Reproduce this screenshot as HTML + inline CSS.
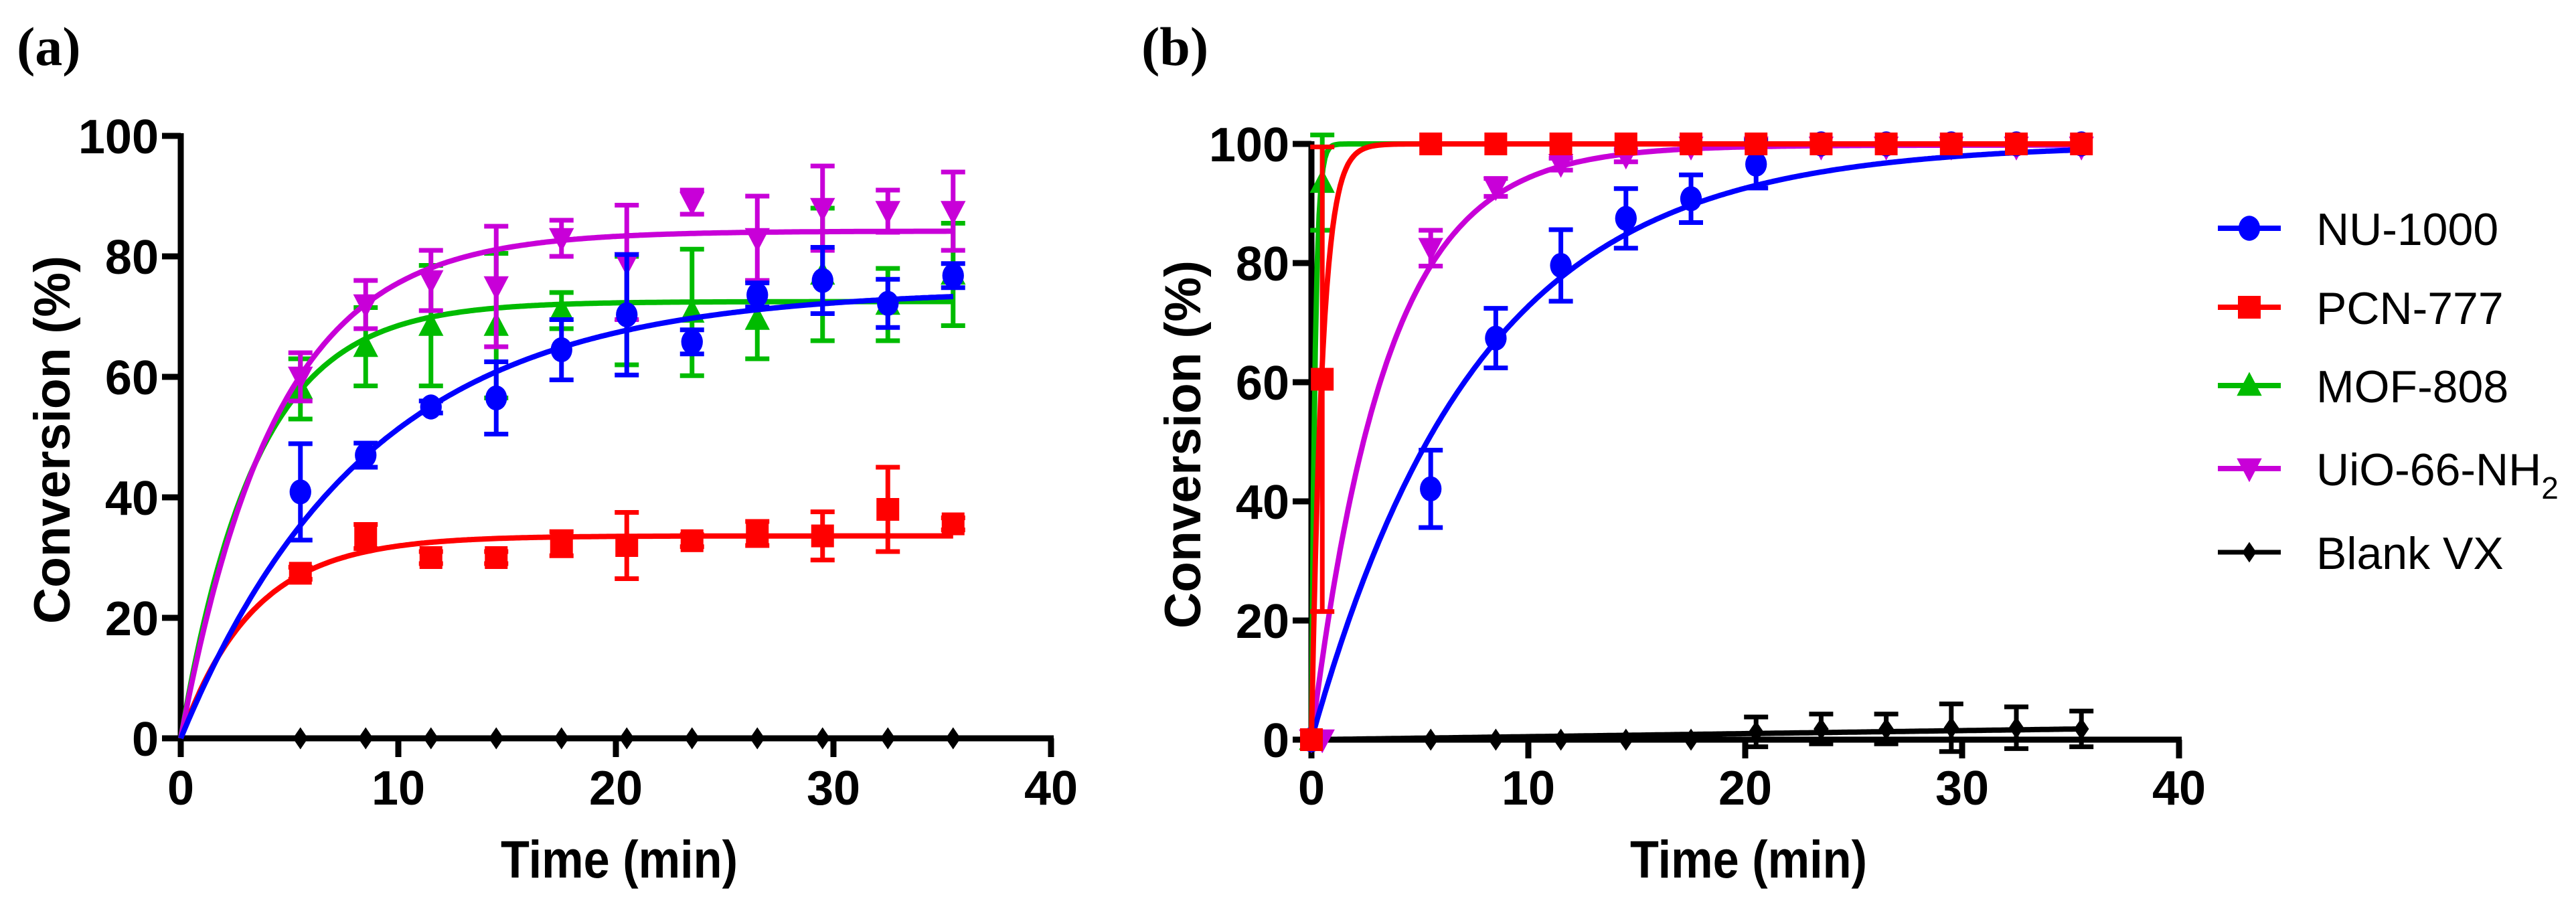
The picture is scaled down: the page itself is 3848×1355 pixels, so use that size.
<!DOCTYPE html>
<html><head><meta charset="utf-8"><style>
html,body{margin:0;padding:0;background:#fff;}
svg{display:block;}
text{font-family:"Liberation Sans",Arial,sans-serif;}
</style></head><body>
<svg id="fig" width="3848" height="1355" viewBox="0 0 3848 1355" xmlns="http://www.w3.org/2000/svg">
<text x="25" y="97" style="font-family:'Liberation Serif',serif" font-weight="bold" font-size="82">(a)</text>
<text x="1705" y="97" style="font-family:'Liberation Serif',serif" font-weight="bold" font-size="82">(b)</text>
<g id="pa"></g>
<g id="pb"></g>
<g id="legend"></g>
</svg>
<script>
// ---- shared ----
const seriesNames = ["NU-1000","PCN-777","MOF-808","UiO-66-NH2","Blank VX"];
const seriesColors = ["#0000ff","#ff0000","#00bb00","#c800d8","#000000"];
const seriesMarkers = ["circle","square","up","down","diamond"];
const xTicks = [0,10,20,30,40];
const yTicks = [0,20,40,60,80,100];

// ---- panel a data ----
const aTimes = [5.5,8.5,11.5,14.5,17.5,20.5,23.5,26.5,29.5,32.5,35.5];
const aNU = [40.9,47,55,56.5,64.5,70.3,65.8,73.6,76,72.2,76.8];
const aNUerr = [8,2,1,6,5,10,2,2,5.5,4,2];
const aPCN = [27.4,33.5,30,30,32.3,32,32.8,34,33.6,38,35.6];
const aPCNerr = [1,2,1,1,2,5.5,1,2,4,7,1];
const aMOF = [58,65,68.5,68.5,71,71,70.7,69.5,77,72,77];
const aMOFerr = [5,6.5,10,12,3,9,10.5,6.5,11,6,8.5];
const aUiO = [60,72,76,75,83,79,89,83,88,87.5,87.5];
const aUiOerr = [4,4,5,10,3,9.5,2,7,7,3.5,6.5];
const aBlank = [0,0,0,0,0,0,0,0,0,0,0];
const aBlankErr = [0,0,0,0,0,0,0,0,0,0,0];
// fit parameters (plateau, rate k)
const aFitPlateau = [74.5,33.6,72.5,84.2,0];
const aFitRate = [0.117,0.30,0.29,0.228,0];

// ---- panel b data ----
const bTimesNU = [0,5.5,8.5,11.5,14.5,17.5,20.5,23.5,26.5,29.5,32.5,35.5];
const bNU = [0,42.1,67.4,79.6,87.5,90.8,96.6,100,100,100,100,100];
const bNUerr = [0,6.5,5,6,5,4,4,0.5,0.5,0.5,0.5,0.5];
const bTimesPCN = [0,0.5,5.5,8.5,11.5,14.5,17.5,20.5,23.5,26.5,29.5,32.5,35.5];
const bPCN = [0,60.5,100,100,100,100,100,100,100,100,100,100,100];
const bPCNerr = [0,39,0.5,0.5,0.5,0.5,0.5,0.5,0.5,0.5,0.5,0.5,0.5];
const bTimesMOF = [0,0.5];
const bMOF = [0,93.5];
const bMOFerr = [0,8];
const bTimesUiO = [0,0.5,5.5,8.5,11.5,14.5,17.5,20.5,23.5,26.5,29.5,32.5,35.5];
const bUiO = [0,0,82.5,92.7,96.6,98,99.5,99.5,99.5,99.5,99.5,99.5,99.5];
const bUiOerr = [0,0,3,1.5,1,1,0.5,0.5,0.5,0.5,0.5,0.5,0.5];
const bTimesBlank = [0,5.5,8.5,11.5,14.5,17.5,20.5,23.5,26.5,29.5,32.5,35.5];
const bBlank = [0,0,0,0,0,0,1.3,1.8,1.8,2,2,1.8];
const bBlankErr = [0,0,0,0,0,0,2.5,2.5,2.5,4,3.5,3];
const bFitPlateau = [100,100,100,99.8,1.8];
const bFitRate = [0.13,2.0,6.0,0.29,0.03];

const NS="http://www.w3.org/2000/svg";
function mk(tag,attrs,parent){const e=document.createElementNS(NS,tag);for(const k in attrs)e.setAttribute(k,attrs[k]);parent.appendChild(e);return e;}

function marker(g,type,cx,cy,color,s){
  let e;
  if(type==="circle"){e=mk("ellipse",{cx:cx,cy:cy,rx:s*0.95,ry:s*1.1,fill:color},g);}
  else if(type==="square"){e=mk("rect",{x:cx-s,y:cy-s,width:2*s,height:2*s,fill:color},g);}
  else if(type==="up"){e=mk("polygon",{points:`${cx},${cy-s*1.2} ${cx+s*1.1},${cy+s*0.9} ${cx-s*1.1},${cy+s*0.9}`,fill:color},g);}
  else if(type==="down"){e=mk("polygon",{points:`${cx},${cy+s*1.2} ${cx+s*1.1},${cy-s*0.9} ${cx-s*1.1},${cy-s*0.9}`,fill:color},g);}
  else {e=mk("polygon",{points:`${cx},${cy-s*1.1} ${cx+s*0.75},${cy} ${cx},${cy+s*1.1} ${cx-s*0.75},${cy}`,fill:color},g);}
  return e;
}

function drawPanel(gid,x0,x1,y0,y1,series,fitP,fitK,blankLinear,prefix){
  const g=document.getElementById(gid);
  const sx=t=>x0+(t/40)*(x1-x0);
  const sy=v=>y0-(v/100)*(y0-y1);
  const ax=mk("g",{},g);
  
  
  mk("line",{x1:x0,y1:y1-4,x2:x0,y2:y0+28,stroke:"#000","stroke-width":9},ax);
  mk("line",{x1:x0-4,y1:y0,x2:x1+4,y2:y0,stroke:"#000","stroke-width":9},ax);
  xTicks.forEach(t=>{
    mk("line",{x1:sx(t),y1:y0,x2:sx(t),y2:y0+28,stroke:"#000","stroke-width":9},ax);
    const tx=mk("text",{x:sx(t),y:1202,"text-anchor":"middle","font-size":72,"font-weight":"bold"},ax);
    tx.textContent=t;
    
    
  });
  yTicks.forEach(v=>{
    mk("line",{x1:x0-28,y1:sy(v),x2:x0,y2:sy(v),stroke:"#000","stroke-width":9},ax);
    const tx=mk("text",{x:x0-33,y:sy(v)+26,"text-anchor":"end","font-size":72,"font-weight":"bold"},ax);
    tx.textContent=v;
    
    
  });
  const xt=mk("text",{x:(x0+x1)/2+5,y:1311,"text-anchor":"middle","font-size":79,"font-weight":"bold",textLength:354,lengthAdjust:"spacingAndGlyphs"},ax);
  xt.textContent="Time (min)";
  
  
  const ycx=x0-166, ycy=(y0+y1)/2+4;
  const yt=mk("text",{x:0,y:0,"text-anchor":"middle","font-size":76,"font-weight":"bold",textLength:550,lengthAdjust:"spacingAndGlyphs",transform:`translate(${ycx},${ycy}) rotate(-90)`},ax);
  yt.textContent="Conversion (%)";
  
  
  series.forEach(s=>{
    const i=s.idx,color=seriesColors[i];
    const sg=mk("g",{},g);
    
    
    let d="";
    for(let k=0;k<=400;k++){
      const t=35.5*k/400;
      let v;
      if(i===4){v=blankLinear? fitP[i]*t/35.5 : 0;}
      else v=fitP[i]*(1-Math.exp(-fitK[i]*t));
      d+=(k?"L":"M")+sx(t).toFixed(1)+","+sy(v).toFixed(1);
    }
    const fl=mk("path",{d:d,fill:"none",stroke:color,"stroke-width":8},sg);
    
    
    s.t.forEach((t,j)=>{
      const v=s.v[j],e=s.e[j];
      if(e>0.6){
        const eb=mk("path",{d:`M${sx(t)},${sy(v+e)}V${sy(v-e)}M${sx(t)-18},${sy(v+e)}h36M${sx(t)-18},${sy(v-e)}h36`,stroke:color,"stroke-width":7,fill:"none"},sg);
        
        
      }
      const m=marker(sg,seriesMarkers[i],sx(t),sy(v),color,i===4?15:17);
      
      
    });
  });
}

drawPanel("pa",270,1570,1103,203,[
  {idx:4,t:aTimes,v:aBlank,e:aBlankErr},
  {idx:1,t:aTimes,v:aPCN,e:aPCNerr},
  {idx:2,t:aTimes,v:aMOF,e:aMOFerr},
  {idx:3,t:aTimes,v:aUiO,e:aUiOerr},
  {idx:0,t:aTimes,v:aNU,e:aNUerr}
],aFitPlateau,aFitRate,false,"a");

drawPanel("pb",1959,3255,1105,215,[
  {idx:4,t:bTimesBlank,v:bBlank,e:bBlankErr},
  {idx:2,t:bTimesMOF,v:bMOF,e:bMOFerr},
  {idx:3,t:bTimesUiO,v:bUiO,e:bUiOerr},
  {idx:0,t:bTimesNU,v:bNU,e:bNUerr},
  {idx:1,t:bTimesPCN,v:bPCN,e:bPCNerr}
],bFitPlateau,bFitRate,true,"b");

const lg=document.getElementById("legend");
const legendRows=[341,459,576,700,825];
seriesNames.forEach((n,i)=>{
  const eg=mk("g",{},lg);
  
  
  mk("line",{x1:3313,y1:legendRows[i],x2:3407,y2:legendRows[i],stroke:seriesColors[i],"stroke-width":i===4?7:8},eg);
  marker(eg,seriesMarkers[i],3360,legendRows[i],seriesColors[i],i===4?14:17);
  const tx=mk("text",{x:3460,y:legendRows[i]+25,"font-size":68},eg);
  if(n==="UiO-66-NH2"){
    tx.textContent="UiO-66-NH";
    const sub=mk("tspan",{"font-size":46,dy:20},tx);
    sub.textContent="2";
  } else tx.textContent=n;
});
</script>
</body></html>
